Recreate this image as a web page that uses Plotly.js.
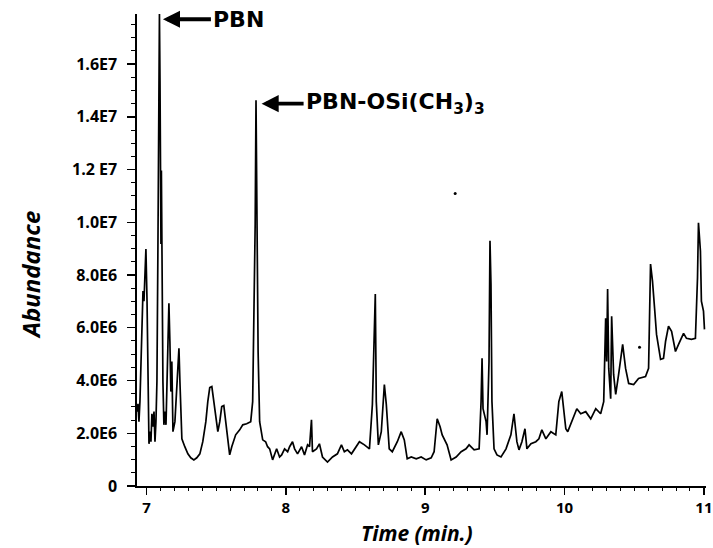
<!DOCTYPE html>
<html>
<head>
<meta charset="utf-8">
<script src="https://cdn.plot.ly/plotly-3.0.1.min.js"></script>
<style>html,body{margin:0;padding:0;background:#fff;}#chart{width:713px;height:548px;}</style>
</head>
<body>
<div id="chart"></div>
<script>
// Retention time (min)
const timeMin = [
6.932,6.939,6.946,6.953,6.961,6.968,6.975,6.982,6.989,6.996,
7.004,7.011,7.018,7.025,7.032,7.039,7.047,7.054,7.061,7.068,
7.075,7.082,7.089,7.093,7.097,7.100,7.104,7.107,7.111,7.118,
7.125,7.132,7.140,7.147,7.154,7.161,7.168,7.175,7.182,7.190,
7.204,7.211,7.218,7.225,7.233,7.240,7.247,7.254,7.275,7.297,
7.318,7.340,7.361,7.383,7.404,7.426,7.440,7.454,7.469,7.483,
7.497,7.512,7.526,7.540,7.555,7.569,7.583,7.597,7.612,7.626,
7.640,7.669,7.691,7.719,7.748,7.762,7.769,7.777,7.780,7.786,
7.791,7.794,7.801,7.812,7.834,7.855,7.869,7.884,7.905,7.934,
7.955,7.970,7.991,8.013,8.027,8.048,8.063,8.084,8.113,8.134,
8.156,8.170,8.184,8.191,8.220,8.241,8.263,8.299,8.335,8.370,
8.399,8.420,8.442,8.471,8.492,8.528,8.564,8.600,8.621,8.635,
8.642,8.649,8.664,8.685,8.707,8.721,8.742,8.764,8.800,8.828,
8.850,8.871,8.900,8.936,8.971,9.007,9.043,9.064,9.086,9.107,
9.122,9.157,9.186,9.222,9.258,9.293,9.315,9.351,9.387,9.401,
9.408,9.415,9.437,9.444,9.458,9.465,9.472,9.479,9.494,9.515,
9.544,9.580,9.615,9.637,9.658,9.673,9.694,9.716,9.730,9.759,
9.794,9.816,9.837,9.866,9.902,9.937,9.959,9.980,10.009,10.023,
10.052,10.088,10.116,10.152,10.188,10.224,10.259,10.281,10.295,10.302,
10.309,10.317,10.331,10.338,10.352,10.367,10.388,10.417,10.438,10.460,
10.496,10.531,10.581,10.603,10.617,10.631,10.646,10.660,10.689,10.710,
10.725,10.746,10.768,10.796,10.818,10.854,10.875,10.911,10.939,10.954,
10.961,10.975,10.982,10.997,11.004
];
// Abundance in units of 1E6
const abundanceE6 = [
2.82,3.12,2.44,3.20,4.72,5.87,7.39,7.01,8.15,8.99,
7.01,3.96,1.60,2.06,1.68,2.74,2.25,2.82,1.68,2.44,
3.96,8.91,16.15,17.90,15.39,10.82,9.18,11.96,7.77,3.96,
2.32,2.82,2.32,3.96,5.87,6.93,5.49,3.58,4.72,2.06,
2.44,3.20,3.96,4.72,5.22,3.96,2.82,1.79,1.49,1.22,
1.07,0.99,1.07,1.22,1.68,2.44,3.20,3.73,3.77,3.20,
2.63,2.06,2.44,3.01,3.05,2.44,1.68,1.18,1.49,1.68,
1.94,2.13,2.32,2.36,2.44,3.20,5.87,6.90,9.94,14.63,
10.82,6.90,5.10,2.44,1.75,1.68,1.49,1.41,0.99,1.41,
1.10,1.18,1.41,1.30,1.49,1.68,1.41,1.22,1.49,1.18,
1.56,1.49,2.51,1.30,1.41,1.60,1.10,0.91,1.10,1.22,
1.56,1.30,1.37,1.22,1.41,1.68,1.56,1.41,3.09,5.87,
7.28,3.20,1.56,2.06,3.85,3.09,1.41,1.30,1.68,2.06,
1.75,1.03,1.10,1.03,1.10,0.99,1.07,1.30,2.55,2.25,
1.94,1.56,0.99,1.10,1.30,1.41,1.56,1.37,1.41,3.20,
4.84,2.93,2.44,1.94,4.72,9.30,7.66,3.20,1.41,1.18,
1.10,1.41,1.94,2.74,1.68,1.37,1.68,2.17,1.41,1.60,
1.68,1.79,2.13,1.79,2.06,1.94,3.20,3.58,2.17,2.06,
2.44,2.93,2.74,2.82,2.55,2.93,2.74,3.20,6.36,4.72,
7.47,4.46,3.31,6.44,4.23,3.47,4.23,5.37,4.46,3.89,
3.85,4.08,4.15,4.46,8.42,7.77,6.74,5.75,4.80,4.84,
5.49,6.06,5.87,5.10,5.37,5.79,5.60,5.56,5.60,7.89,
9.98,8.91,7.01,6.63,5.94
];
// Stray specks in the scanned trace
const speckTime = [9.215, 10.538];
const speckE6 = [11.09, 5.26];

const yTickVals = [0, 2e6, 4e6, 6e6, 8e6, 1e7, 1.2e7, 1.4e7, 1.6e7];
const yTickText = ["0", "2.0E6", "4.0E6", "6.0E6", "8.0E6", "1.0E7", "1.2 E7", "1.4E7", "1.6E7"];
const xTickVals = [7, 8, 9, 10, 11];
const xTickText = ["7", "8", "9", "10", "11"];

const labelPBN = "PBN";
const labelPBNOSi = "PBN-OSi(CH<sub>3</sub>)<sub>3</sub>";
const peakPBN = {t: 7.118, a: 17.7e6};
const peakPBNOSi = {t: 7.826, a: 14.5e6};

const FONT = "Open Sans, Noto Sans, DejaVu Sans, sans-serif";
const LABEL_FONT = "DejaVu Sans, Open Sans, sans-serif";

const X_RANGE = [6.932, 11.015];
const Y_RANGE = [0, 1.79e7];

// minor tick positions
const xMinor = [];
for (let i = 70; i <= 110; i++) if (i % 10 !== 0) xMinor.push(i / 10);
const yMinor = [];
for (let i = 1; i <= 35; i++) if (i % 4 !== 0) yMinor.push(i * 5e5);

const traces = [
  {
    x: timeMin,
    y: abundanceE6.map(v => v * 1e6),
    type: "scatter",
    mode: "lines",
    line: {color: "#000", width: 1.7},
    hoverinfo: "skip"
  },
  {
    x: speckTime,
    y: speckE6.map(v => v * 1e6),
    type: "scatter",
    mode: "markers",
    marker: {color: "#000", size: 3},
    hoverinfo: "skip"
  }
];

const layout = {
  width: 713,
  height: 548,
  margin: {l: 137, r: 7, t: 14, b: 62},
  paper_bgcolor: "#fff",
  plot_bgcolor: "#fff",
  showlegend: false,
  font: {family: FONT, color: "#000"},
  xaxis: {
    range: X_RANGE,
    showgrid: false,
    zeroline: false,
    showline: true,
    linecolor: "#000",
    linewidth: 1.6,
    ticks: "outside",
    ticklen: 7,
    tickwidth: 1.4,
    tickcolor: "#000",
    tickvals: xTickVals,
    ticktext: xTickText,
    ticklabeloverflow: "allow",
    ticklabelstandoff: 0,
    tickfont: {family: FONT, size: 15, weight: "bold", color: "#000"},
    minor: {tickmode: "array", tickvals: xMinor, ticks: "outside", ticklen: 3, tickwidth: 1, tickcolor: "#000", showgrid: false},
    fixedrange: true
  },
  yaxis: {
    range: Y_RANGE,
    showgrid: false,
    zeroline: false,
    showline: true,
    linecolor: "#000",
    linewidth: 1.6,
    ticks: "outside",
    ticklen: 8,
    tickwidth: 1.4,
    tickcolor: "#000",
    tickvals: yTickVals,
    ticktext: yTickText,
    ticklabelstandoff: 7,
    tickfont: {family: FONT, size: 16, weight: "bold", color: "#000"},
    minor: {tickmode: "array", tickvals: yMinor, ticks: "outside", ticklen: 4, tickwidth: 1, tickcolor: "#000", showgrid: false},
    fixedrange: true
  },
  annotations: [
    {
      x: peakPBN.t, y: peakPBN.a, xref: "x", yref: "y",
      text: labelPBN, showarrow: true,
      axref: "pixel", ayref: "pixel", ax: 48, ay: 0,
      xanchor: "left", yanchor: "middle",
      arrowhead: 2, arrowsize: 0.9, arrowwidth: 3.8, arrowcolor: "#000",
      standoff: 0, startstandoff: 0,
      font: {family: LABEL_FONT, size: 22, weight: "bold", color: "#000"}
    },
    {
      x: peakPBNOSi.t, y: peakPBNOSi.a, xref: "x", yref: "y",
      text: labelPBNOSi, showarrow: true,
      axref: "pixel", ayref: "pixel", ax: 42, ay: 0,
      xanchor: "left", yanchor: "middle",
      arrowhead: 2, arrowsize: 0.9, arrowwidth: 3.8, arrowcolor: "#000",
      standoff: 0, startstandoff: 0,
      font: {family: LABEL_FONT, size: 22, weight: "bold", color: "#000"}
    },
    {
      x: -0.188, y: 0.447, xref: "paper", yref: "paper",
      text: "Abundance", showarrow: false, textangle: -90,
      xanchor: "center", yanchor: "middle",
      font: {family: FONT, size: 24, weight: "bold", style: "italic", color: "#000"}
    },
    {
      x: 0.492, y: -0.1, xref: "paper", yref: "paper",
      text: "Time (min.)", showarrow: false,
      xanchor: "center", yanchor: "middle",
      font: {family: FONT, size: 21, weight: "bold", style: "italic", color: "#000"}
    }
  ]
};

Plotly.newPlot("chart", traces, layout, {displayModeBar: false, staticPlot: true});
</script>
</body>
</html>
